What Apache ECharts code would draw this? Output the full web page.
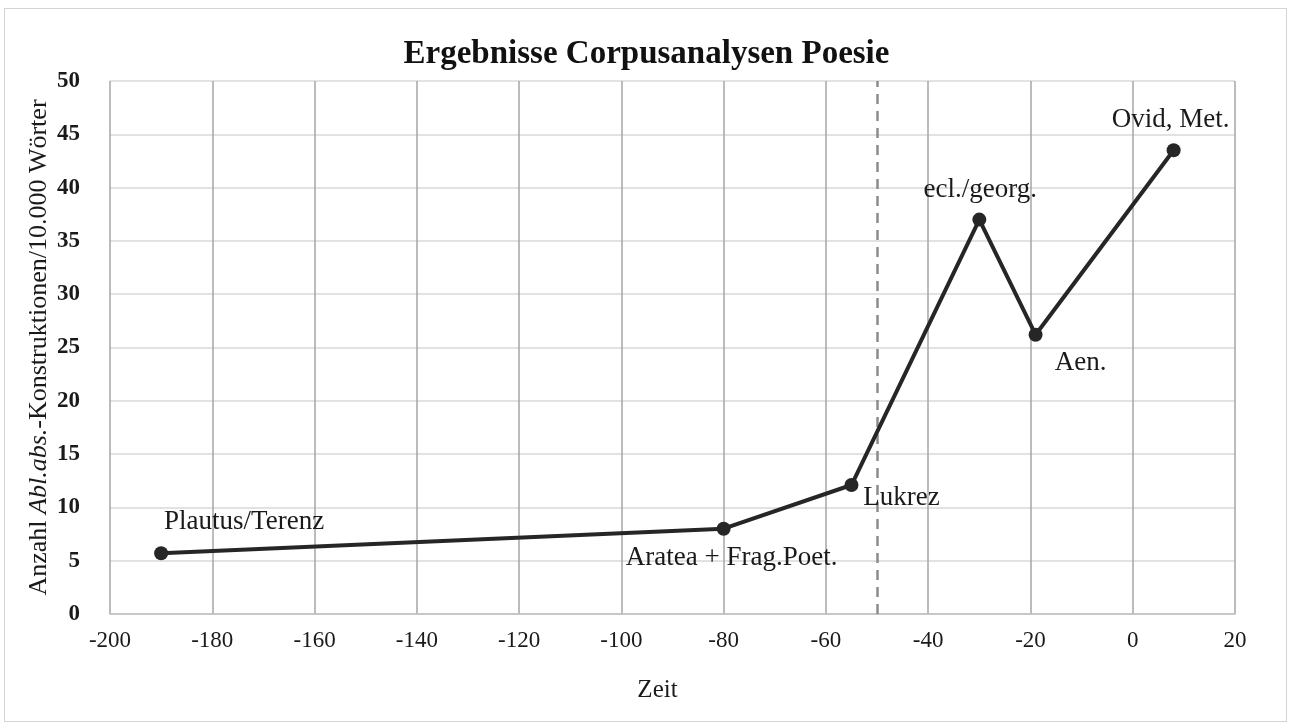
<!DOCTYPE html>
<html>
<head>
<meta charset="utf-8">
<script src="https://cdn.jsdelivr.net/npm/echarts@6/dist/echarts.min.js"></script>
<style>
  html, body { margin: 0; padding: 0; background: #fff; }
  #frame { position: absolute; left: 4px; top: 8px; width: 1283px; height: 714px; border: 1.5px solid #d4d4d4; box-sizing: border-box; }
  #chart { position: absolute; left: 0; top: 0; width: 1293px; height: 724px; }
</style>
</head>
<body>
<div id="frame"></div>
<div id="chart"></div>
<script>
// ---- data ----
const years = [-190, -80, -55, -30, -19, 8];
const rates = [5.7, 8.0, 12.1, 37.0, 26.2, 43.5];
const pointNames = ['Plautus/Terenz', 'Aratea + Frag.Poet.', 'Lukrez', 'ecl./georg.', 'Aen.', 'Ovid, Met.'];
const markerYear = -50;
const titleText = 'Ergebnisse Corpusanalysen Poesie';
const xAxisTitle = 'Zeit';
const yAxisTitleParts = ['Anzahl ', 'Abl.abs.', '-Konstruktionen/10.000 Wörter'];

// ---- label placement (style, not data) ----
const labelOffsets = {
  'Plautus/Terenz': [83, -31],
  'Aratea + Frag.Poet.': [8, 29],
  'Lukrez': [50, 13],
  'ecl./georg.': [1, -30],
  'Aen.': [45, 28],
  'Ovid, Met.': [-3, -30]
};

const FONT = '"Liberation Serif", "Times New Roman", serif';
const chart = echarts.init(document.getElementById('chart'), null, { renderer: 'canvas' });

const seriesData = years.map((yr, i) => ({
  value: [yr, rates[i]],
  name: pointNames[i],
  label: {
    show: true,
    position: 'inside',
    align: 'center',
    verticalAlign: 'middle',
    offset: labelOffsets[pointNames[i]],
    formatter: pointNames[i],
    fontFamily: FONT,
    fontSize: 27,
    color: '#1a1a1a'
  }
}));

chart.setOption({
  animation: false,
  backgroundColor: 'transparent',
  title: {
    text: titleText,
    left: 'center',
    top: 33,
    textStyle: { fontFamily: FONT, fontSize: 33, fontWeight: 'bold', color: '#111' }
  },
  grid: { left: 110, right: 58, top: 81, bottom: 110, containLabel: false },
  xAxis: {
    type: 'value',
    min: -200, max: 20, interval: 20,
    name: xAxisTitle,
    nameLocation: 'middle',
    nameGap: 64,
    nameTextStyle: { fontFamily: FONT, fontSize: 25, color: '#1a1a1a', padding: [0, 30, 0, 0] },
    axisLine: { show: true, lineStyle: { color: '#bfbfbf', width: 1.5 } },
    axisTick: { show: false },
    axisLabel: { margin: 15, fontFamily: FONT, fontSize: 23, color: '#1a1a1a' },
    splitLine: { show: true, lineStyle: { color: '#a6a6a6', width: 1.5 } }
  },
  yAxis: {
    type: 'value',
    min: 0, max: 50, interval: 5,
    name: '{n|' + yAxisTitleParts[0] + '}{i|' + yAxisTitleParts[1] + '}{n|' + yAxisTitleParts[2] + '}',
    nameLocation: 'middle',
    nameRotate: 90,
    nameGap: 58,
    nameMoveOverlap: false,
    nameTextStyle: {
      fontFamily: FONT, fontSize: 26, color: '#1a1a1a',
      rich: {
        n: { fontFamily: FONT, fontSize: 26, color: '#1a1a1a' },
        i: { fontFamily: FONT, fontSize: 26, fontStyle: 'italic', color: '#1a1a1a' }
      }
    },
    axisLine: { show: false },
    axisTick: { show: false },
    axisLabel: { margin: 30, fontFamily: FONT, fontSize: 23, fontWeight: 'bold', color: '#1a1a1a' },
    splitLine: { show: true, lineStyle: { color: '#d9d9d9', width: 1.5 } }
  },
  series: [{
    type: 'line',
    data: seriesData,
    symbol: 'circle',
    symbolSize: 14,
    itemStyle: { color: '#262626' },
    lineStyle: { color: '#262626', width: 4 },
    z: 3,
    markLine: {
      silent: true,
      symbol: ['none', 'none'],
      label: { show: false },
      lineStyle: { color: '#8c8c8c', type: [10, 7], width: 2.5 },
      data: [{ xAxis: markerYear }],
      z: 2
    }
  }]
});
</script>
</body>
</html>
